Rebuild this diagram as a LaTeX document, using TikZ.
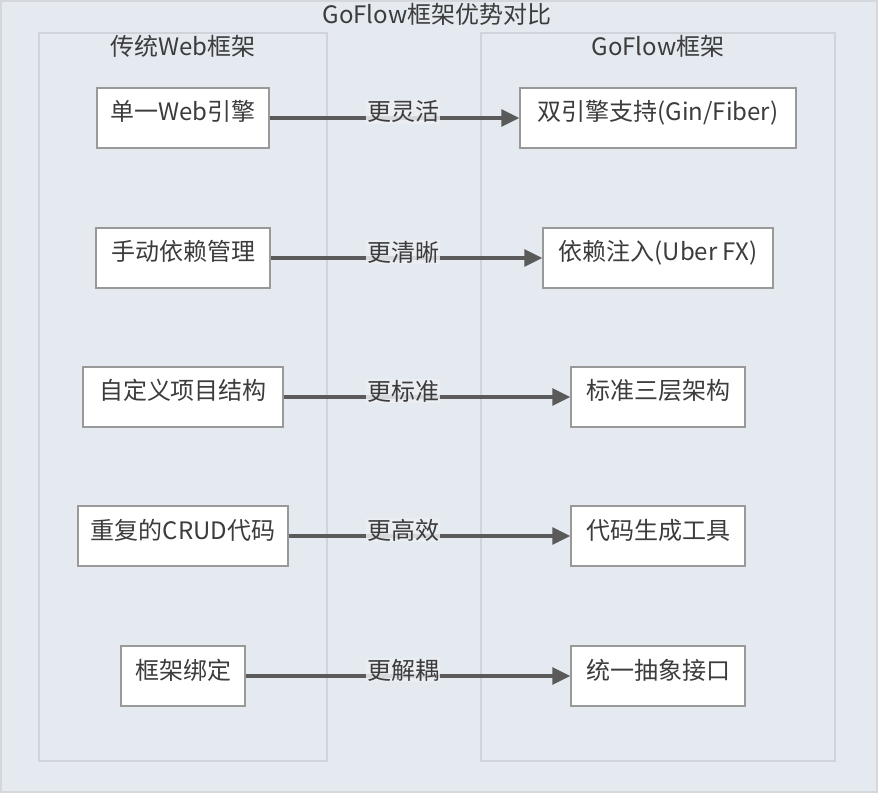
\documentclass[tikz,border=0pt]{standalone}
\usepackage{fontspec}
\setmainfont{Noto Sans CJK SC}
\usetikzlibrary{arrows.meta}
\definecolor{bgc}{RGB}{229,233,240}
\definecolor{outerline}{RGB}{212,215,220}
\definecolor{clline}{RGB}{208,212,218}
\definecolor{nodeline}{RGB}{153,153,153}
\definecolor{txt}{RGB}{60,60,60}
\definecolor{arr}{RGB}{90,90,90}
\definecolor{lblbg}{RGB}{236,239,243}
\tikzset{
  box/.style={draw=nodeline, line width=1.4pt, fill=white, text=txt,
    inner xsep=0pt, inner ysep=0pt, text height=33pt, text depth=27pt,
    font=\fontsize{24}{28}\selectfont},
  cluster/.style={draw=clline, line width=1.3pt, fill=bgc},
  ttl/.style={text=txt, font=\fontsize{24}{28}\selectfont, inner sep=1pt},
  conn/.style={draw=arr, line width=3.2pt, -{Triangle[length=18pt,width=17pt]}},
  lbl/.style={fill=lblbg, fill opacity=0.85, text opacity=1, text=txt,
    font=\fontsize{24}{28}\selectfont, inner sep=1pt}
}
\begin{document}
\begin{tikzpicture}[x=1pt,y=-1pt]
\useasboundingbox (0,0) rectangle (879,794);
\draw[draw=outerline, line width=1.5pt, fill=bgc] (1,1) rectangle (877,792);
\node[ttl] (title) at (437,14) {GoFlow框架优势对比};
\draw[cluster] (39,33) rectangle (327,761);
\draw[cluster] (481,33) rectangle (835,761);
\node[ttl] (lt) at (183,46) {传统Web框架};
\node[ttl] (rt) at (658,46) {GoFlow框架};

\node[box, minimum width=172pt] (l1) at (183,118) {单一Web引擎};
\node[box, minimum width=174pt] (l2) at (183,258) {手动依赖管理};
\node[box, minimum width=200pt] (l3) at (183,397) {自定义项目结构};
\node[box, minimum width=210pt] (l4) at (183,536) {重复的CRUD代码};
\node[box, minimum width=124pt] (l5) at (183,676) {框架绑定};

\node[box, minimum width=276pt] (r1) at (658,118) {双引擎支持(Gin/Fiber)};
\node[box, minimum width=230pt] (r2) at (658,258) {依赖注入(Uber FX)};
\node[box, minimum width=174pt] (r3) at (658,397) {标准三层架构};
\node[box, minimum width=174pt] (r4) at (658,536) {代码生成工具};
\node[box, minimum width=174pt] (r5) at (658,676) {统一抽象接口};

\draw[conn] (l1.east) -- (r1.west);
\draw[conn] (l2.east) -- (r2.west);
\draw[conn] (l3.east) -- (r3.west);
\draw[conn] (l4.east) -- (r4.west);
\draw[conn] (l5.east) -- (r5.west);
\node[lbl] (e1) at (403,112) {更灵活};
\node[lbl] (e2) at (403,252) {更清晰};
\node[lbl] (e3) at (403,391) {更标准};
\node[lbl] (e4) at (403,530) {更高效};
\node[lbl] (e5) at (403,670) {更解耦};
\end{tikzpicture}
\end{document}
